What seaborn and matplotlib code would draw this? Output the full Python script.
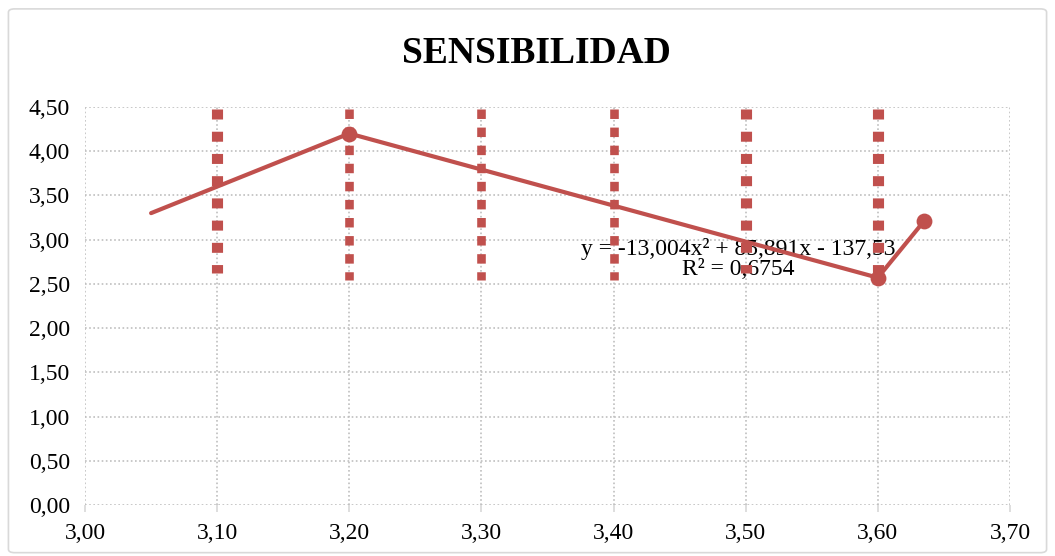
import matplotlib
matplotlib.use("Agg")
import matplotlib.pyplot as plt
import seaborn as sns
import pandas as pd
from matplotlib.patches import FancyBboxPatch
from matplotlib.ticker import FuncFormatter, MultipleLocator

# Main series (x, sensitivity); only measured points carry a marker
serie_x = [3.05, 3.20, 3.60, 3.635]
serie_y = [3.30, 4.20, 2.57, 3.21]
serie_marker = [False, True, True, True]

# Vertical range bars
bar_x = [3.10, 3.20, 3.30, 3.40, 3.50, 3.60]
bar_low = [2.62, 2.54, 2.54, 2.54, 2.62, 2.55]
bar_high = [4.48, 4.48, 4.48, 4.48, 4.48, 4.48]

title = "SENSIBILIDAD"
trend_eq = "y = -13,004x\u00b2 + 85,891x - 137,53"
trend_r2 = "R\u00b2 = 0,6754"

RED = "#C0504D"
GRID = "#BFBFBF"

sns.set_theme(style="white")
plt.rcParams["font.family"] = ["Liberation Serif", "DejaVu Serif"]

fig = plt.figure(figsize=(10.55, 5.56), dpi=100)
fig.patch.set_facecolor("white")
fig.patches.append(FancyBboxPatch((0.008, 0.006), 0.984, 0.978,
                                  boxstyle="round,pad=0,rounding_size=0.006",
                                  transform=fig.transFigure, fill=False,
                                  edgecolor="#D9D9D9", linewidth=1.2))

ax = fig.add_axes([0.0806, 0.0917, 0.8767, 0.7159])

df = pd.DataFrame({"x": serie_x, "y": serie_y, "m": serie_marker})

# Dashed vertical bars (drawn over the equation text)
bar_lw = [8.0, 6.2, 6.2, 6.2, 8.0, 8.0]
bar_dash = [(0.9, 1.1), (1.1, 1.0), (1.1, 1.0), (1.1, 1.0), (0.9, 1.1), (0.9, 1.1)]
for x, lo, hi, lw, d in zip(bar_x, bar_low, bar_high, bar_lw, bar_dash):
    ax.plot([x, x], [hi, lo], color=RED, lw=lw, linestyle=(0, d),
            solid_capstyle="butt", dash_capstyle="butt", zorder=5)

sns.lineplot(data=df, x="x", y="y", sort=False, color=RED, linewidth=3,
             ax=ax, zorder=4)
sns.scatterplot(data=df[df["m"]], x="x", y="y", color=RED, s=130,
                edgecolor=RED, linewidth=0, ax=ax, zorder=6)

ax.text(3.494, 2.78, trend_eq + "\n" + trend_r2, ha="center", va="center",
        fontsize=17, color="black", linespacing=0.9, zorder=3)

ax.set_xlim(3.0, 3.7)
ax.set_ylim(0.0, 4.5)
ax.xaxis.set_major_locator(MultipleLocator(0.1))
ax.yaxis.set_major_locator(MultipleLocator(0.5))
fmt = FuncFormatter(lambda v, p: f"{v:.2f}".replace(".", ","))
ax.xaxis.set_major_formatter(fmt)
ax.yaxis.set_major_formatter(fmt)
ax.set_xlabel("")
ax.set_ylabel("")

ax.grid(True, color=GRID, linestyle=(0, (1, 1.5)), linewidth=1.2)
ax.set_axisbelow(True)
for s in ax.spines.values():
    s.set_visible(False)
ax.tick_params(axis="x", length=5, color="#D9D9D9", labelsize=17, pad=8,
               labelcolor="black", bottom=True)
ax.tick_params(axis="y", length=0, labelsize=17, pad=11, labelcolor="black")

fig.text(0.508, 0.903, title, ha="center", va="center", fontsize=27,
         fontweight="bold", color="black")

fig.savefig("out.png", dpi=100)
